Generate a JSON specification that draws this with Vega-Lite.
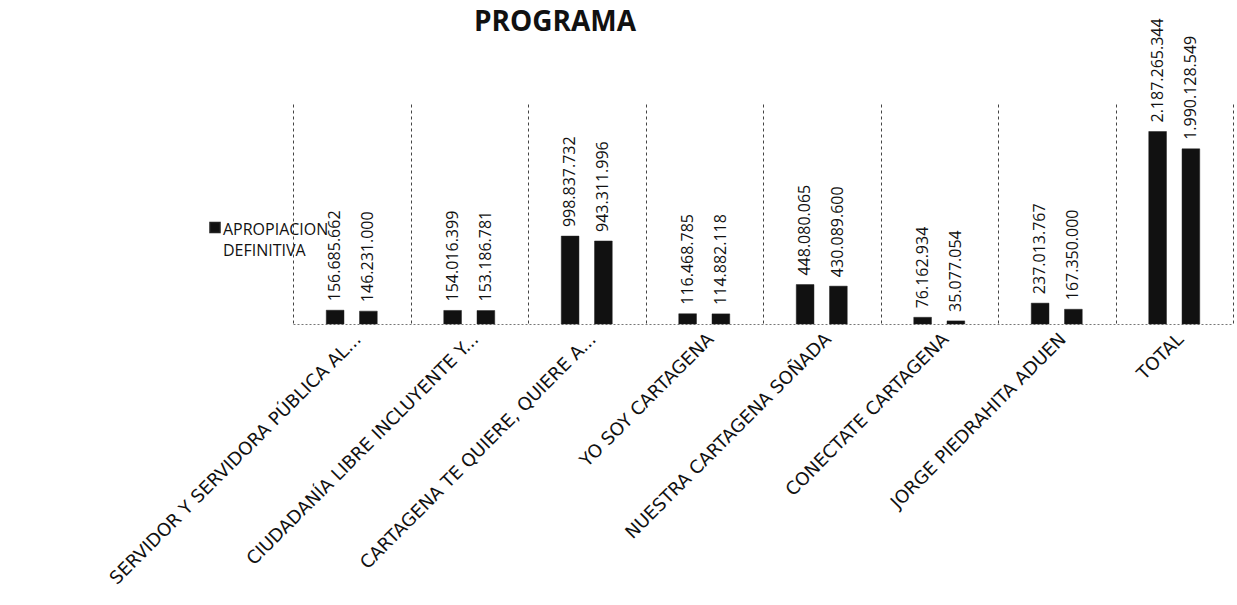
{
  "$schema": "https://vega.github.io/schema/vega-lite/v6.json",
  "width": 940,
  "height": 220,
  "autosize": {"type": "none"},
  "padding": {"left": 293, "top": 104, "right": 4, "bottom": 281},
  "background": "white",
  "title": {"text": "PROGRAMA", "fontSize": 28, "fontWeight": "bold", "font": "Open Sans", "color": "#111", "anchor": "middle", "frame": "group", "dx": -208, "offset": -19},
  "data": {"values": [
    {"programa": "SERVIDOR Y SERVIDORA PÚBLICA AL...", "serie": "APROPIACION DEFINITIVA", "valor": 156685662},
    {"programa": "SERVIDOR Y SERVIDORA PÚBLICA AL...", "serie": "EJECUCION", "valor": 146231000},
    {"programa": "CIUDADANÍA LIBRE INCLUYENTE Y...", "serie": "APROPIACION DEFINITIVA", "valor": 154016399},
    {"programa": "CIUDADANÍA LIBRE INCLUYENTE Y...", "serie": "EJECUCION", "valor": 153186781},
    {"programa": "CARTAGENA TE QUIERE, QUIERE A...", "serie": "APROPIACION DEFINITIVA", "valor": 998837732},
    {"programa": "CARTAGENA TE QUIERE, QUIERE A...", "serie": "EJECUCION", "valor": 943311996},
    {"programa": "YO SOY CARTAGENA", "serie": "APROPIACION DEFINITIVA", "valor": 116468785},
    {"programa": "YO SOY CARTAGENA", "serie": "EJECUCION", "valor": 114882118},
    {"programa": "NUESTRA CARTAGENA SOÑADA", "serie": "APROPIACION DEFINITIVA", "valor": 448080065},
    {"programa": "NUESTRA CARTAGENA SOÑADA", "serie": "EJECUCION", "valor": 430089600},
    {"programa": "CONECTATE CARTAGENA", "serie": "APROPIACION DEFINITIVA", "valor": 76162934},
    {"programa": "CONECTATE CARTAGENA", "serie": "EJECUCION", "valor": 35077054},
    {"programa": "JORGE PIEDRAHITA ADUEN", "serie": "APROPIACION DEFINITIVA", "valor": 237013767},
    {"programa": "JORGE PIEDRAHITA ADUEN", "serie": "EJECUCION", "valor": 167350000},
    {"programa": "TOTAL", "serie": "APROPIACION DEFINITIVA", "valor": 2187265344},
    {"programa": "TOTAL", "serie": "EJECUCION", "valor": 1990128549}
  ]},
  "encoding": {
    "x": {
      "field": "programa", "type": "nominal", "sort": null,
      "scale": {"paddingInner": 0, "paddingOuter": 0},
      "axis": {
        "title": null, "labelAngle": -45, "labelFont": "DejaVu Sans", "labelFontSize": 18, "labelColor": "#111",
        "labelLimit": 600, "labelPadding": 6,
        "ticks": false, "tickBand": "extent",
        "grid": true, "gridColor": "#444", "gridDash": [3, 3], "gridWidth": 1,
        "domain": true, "domainColor": "#777", "domainDash": [2, 2], "domainWidth": 1
      }
    },
    "xOffset": {"field": "serie", "type": "nominal", "sort": ["APROPIACION DEFINITIVA", "EJECUCION"], "scale": {"paddingInner": 0.467, "paddingOuter": 1.19}},
    "y": {"field": "valor", "type": "quantitative", "scale": {"domain": [0, 2500000000], "nice": false}, "axis": null}
  },
  "layer": [
    {
      "mark": {"type": "bar", "stroke": "#222", "strokeWidth": 0.5},
      "encoding": {
        "color": {
          "field": "serie", "type": "nominal",
          "scale": {"domain": ["APROPIACION DEFINITIVA", "EJECUCION"], "range": ["#111111", "#111111"]},
          "legend": {
            "values": ["APROPIACION DEFINITIVA"], "title": null, "orient": "none",
            "legendX": -86, "legendY": 110, "symbolType": "M-1,0.1H1V2.1H-1Z", "symbolSize": 100,
            "labelFontSize": 16, "labelColor": "#111", "labelLimit": 300,
            "labelExpr": "split(datum.label, ' ')", "labelBaseline": "top", "labelOffset": 0
          }
        }
      }
    },
    {
      "mark": {"type": "text", "angle": 270, "align": "left", "baseline": "middle", "dx": 9, "fontSize": 16, "color": "#111"},
      "encoding": {
        "text": {"field": "valor", "type": "quantitative", "format": ",d"}
      }
    }
  ],
  "config": {
    "font": "Open Sans",
    "view": {"stroke": null},
    "style": {"guide-label": {"lineHeight": 21}},
    "locale": {"number": {"decimal": ",", "thousands": ".", "grouping": [3], "currency": ["$", ""]}}
  }
}
